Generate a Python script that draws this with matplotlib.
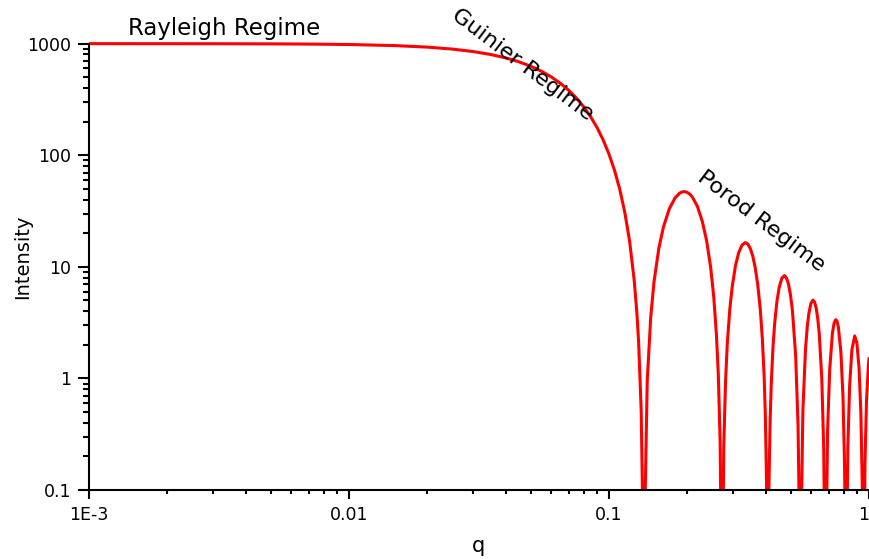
import matplotlib.pyplot as plt
from matplotlib.ticker import LogLocator, NullFormatter

# scattering curve (q, intensity)
q_values = [
    0.001, 0.002, 0.003, 0.005, 0.007, 0.01, 0.015, 0.02, 0.025, 0.03,
    0.035, 0.04, 0.045, 0.05, 0.055, 0.06, 0.065, 0.07, 0.075, 0.08,
    0.085, 0.09, 0.095, 0.1, 0.105, 0.11, 0.115, 0.12, 0.125, 0.128,
    0.13, 0.133, 0.135,
    0.1369, 0.1403, 0.1447, 0.149, 0.1555, 0.162, 0.1706, 0.1793, 0.1871, 0.1906,
    0.1944, 0.1983, 0.2018, 0.2057, 0.2096, 0.2191, 0.2286, 0.2373, 0.246, 0.2529,
    0.2589, 0.2633, 0.2676, 0.2711,
    0.2729, 0.2763, 0.2807, 0.285, 0.2915, 0.298, 0.3066, 0.3153, 0.3248, 0.3343,
    0.3421, 0.3499, 0.3573, 0.3646, 0.3733, 0.382, 0.3889, 0.395, 0.3993, 0.4036, 0.4071,
    0.4089, 0.4123, 0.4167, 0.421, 0.4275, 0.434, 0.4426, 0.4513, 0.4621, 0.4729,
    0.4816, 0.4903, 0.4989, 0.5076, 0.5223, 0.5335, 0.5405,
    0.5475, 0.557, 0.57, 0.5786, 0.5873, 0.5981, 0.6089, 0.6176, 0.6263, 0.6349,
    0.6436, 0.6583, 0.6695, 0.6765,
    0.6835, 0.693, 0.706, 0.7233, 0.7341, 0.7449, 0.7536, 0.7623, 0.7796, 0.7943,
    0.8055, 0.8125,
    0.8195, 0.829, 0.842, 0.8593, 0.8809, 0.8983, 0.9156, 0.9303, 0.9415, 0.9485,
    0.9555, 0.965, 0.978, 0.9953, 1.0,
]
intensity = [
    999.8, 999.3, 998.4, 995.6, 991.3, 982.3, 960.6, 931.0, 893.6, 849.5,
    800.5, 746.0, 688.0, 627.5, 565.2, 503.0, 441.4, 381.7, 324.6, 270.9,
    221.4, 176.6, 136.8, 102.2, 73.3, 49.5, 30.8, 17.0, 7.58, 3.86,
    2.12, 0.508, 0.055,
    0.040, 0.949, 3.54, 7.37, 14.7, 22.8, 33.1, 41.3, 45.8, 46.8,
    47.2, 46.8, 45.9, 44.2, 42.0, 34.5, 25.4, 17.2, 9.92, 5.35,
    2.47, 1.08, 0.269, 0.0119,
    0.0101, 0.245, 0.939, 2.02, 4.17, 6.73, 10.26, 13.4, 15.66, 16.5,
    15.97, 14.5, 12.46, 10.0, 6.94, 4.11, 2.26, 1.06, 0.471, 0.118, 0.00528,
    0.00448, 0.110, 0.426, 0.923, 1.94, 3.17, 4.92, 6.52, 7.90, 8.34,
    7.95, 6.98, 5.61, 4.05, 1.59, 0.377, 0.0426,
    0.040, 0.528, 1.84, 2.88, 3.85, 4.72, 5.03, 4.83, 4.28, 3.46,
    2.52, 1.00, 0.239, 0.0272,
    0.0256, 0.341, 1.20, 2.54, 3.13, 3.36, 3.25, 2.89, 1.72, 0.687,
    0.165, 0.0189,
    0.0178, 0.238, 0.843, 1.80, 2.40, 2.08, 1.24, 0.501, 0.121, 0.0138,
    0.0131, 0.176, 0.625, 1.34, 1.50,
]

x_ticks = [0.001, 0.01, 0.1, 1]
x_tick_labels = ["1E-3", "0.01", "0.1", "1"]
y_ticks = [0.1, 1, 10, 100, 1000]
y_tick_labels = ["0.1", "1", "10", "100", "1000"]

plt.rcParams['font.family'] = ['DejaVu Sans']

fig = plt.figure(figsize=(8.7, 5.59), dpi=100)
ax = fig.add_axes([89 / 870, 69 / 559, 780 / 870, 466 / 559])

ax.plot(q_values, intensity, color="#ff0000", lw=2.2)

ax.set_xscale("log")
ax.set_yscale("log")
ax.set_xlim(0.001, 1)
ax.set_ylim(0.1, 1500)

ax.set_xticks(x_ticks)
ax.set_xticklabels(x_tick_labels)
ax.set_yticks(y_ticks)
ax.set_yticklabels(y_tick_labels)
ax.xaxis.set_minor_locator(LogLocator(base=10, subs=range(2, 10)))
ax.yaxis.set_minor_locator(LogLocator(base=10, subs=range(2, 10)))
ax.xaxis.set_minor_formatter(NullFormatter())
ax.yaxis.set_minor_formatter(NullFormatter())
# last tick label sits at the right edge, keep it inside the figure
ax.get_xticklabels()[-1].set_horizontalalignment("right")

for side in ["top", "right"]:
    ax.spines[side].set_visible(False)
for side in ["left", "bottom"]:
    ax.spines[side].set_linewidth(1.5)
ax.spines["left"].set_bounds(0.1, 1000)

ax.tick_params(axis="x", which="major", length=6.5, width=1.5, direction="out", labelsize=12.5, pad=5)
ax.tick_params(axis="x", which="minor", length=3, width=1.5, direction="out")
ax.tick_params(axis="y", which="major", length=8, width=1.5, direction="out", labelsize=12.5, pad=5)
ax.tick_params(axis="y", which="minor", length=4, width=1.5, direction="out")

ax.set_xlabel("q", fontsize=15, labelpad=9)
ax.set_ylabel("Intensity", fontsize=14)
ax.yaxis.set_label_coords(-0.073, 0.5)

ax.text(0.0033, 1205, "Rayleigh Regime", fontsize=16.5, ha="center", va="baseline")
ax.text(0.0467, 648, "Guinier Regime", fontsize=16, ha="center", va="center", rotation=-37)
ax.text(0.385, 25.9, "Porod Regime", fontsize=16, ha="center", va="center", rotation=-37)

fig.savefig("out.png", dpi=100)
